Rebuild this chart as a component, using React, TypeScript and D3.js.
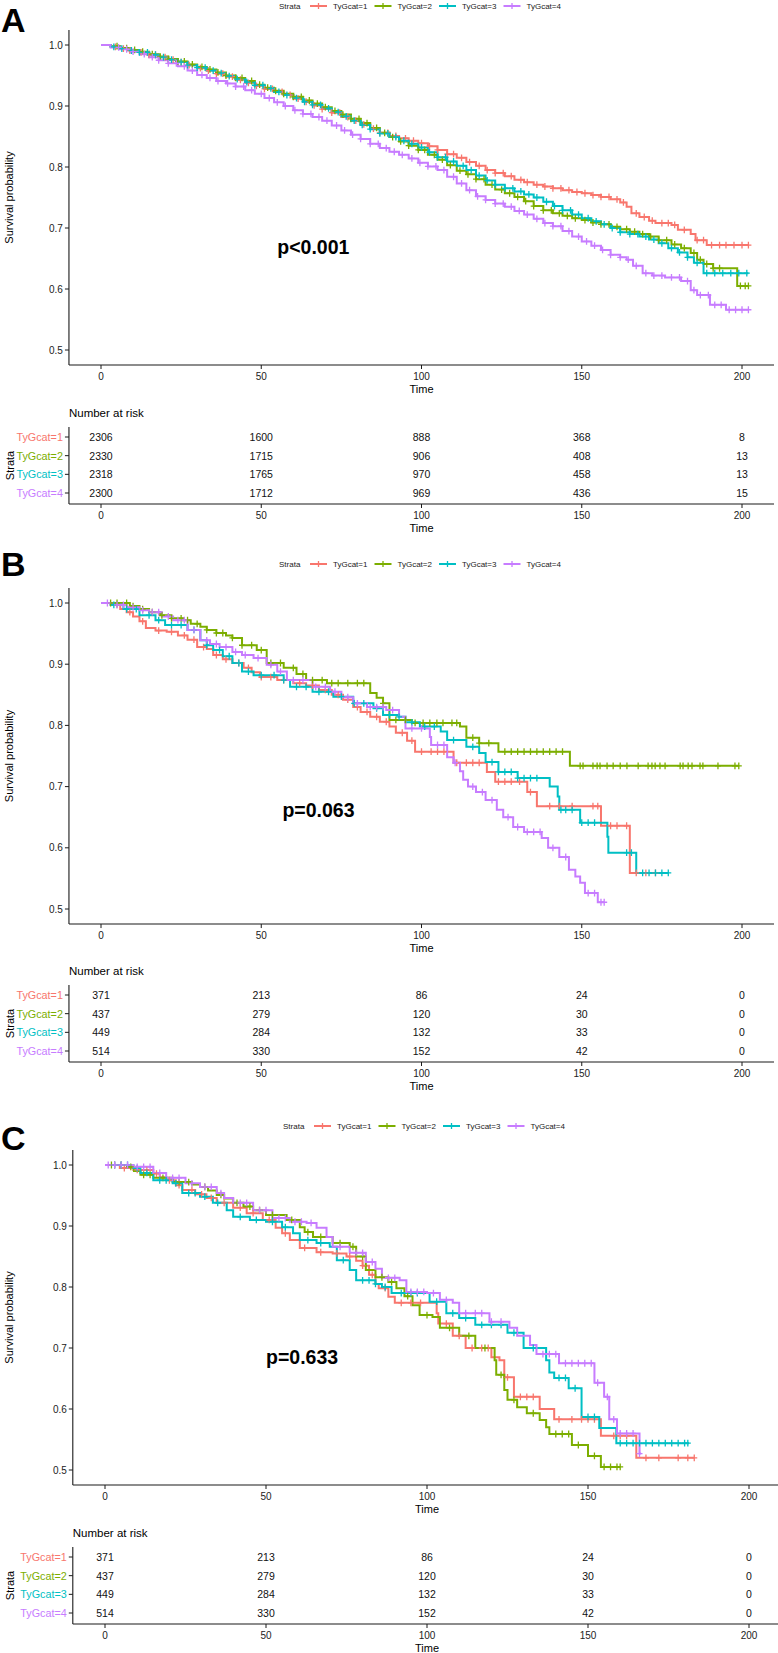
import * as d3 from "d3";
import { useEffect, useRef } from "react";

type Pt = [number, number];

const W = 778;
const H = 1653;
const FONT = "'Liberation Sans', Arial, Helvetica, sans-serif";

const strata = ["TyGcat=1", "TyGcat=2", "TyGcat=3", "TyGcat=4"];
const strataColors = ["#F8766D", "#7CAE00", "#00BFC4", "#C77CFF"];
const timeTicks = [0, 50, 100, 150, 200];
const survTicks = [0.5, 0.6, 0.7, 0.8, 0.9, 1.0];

// ---- panel A (step points: [time, survival from that time on]) ----
const survA1: Pt[] = [[0,1],[3,0.997],[6,0.994],[9,0.991],[12,0.988],[15,0.984],[18,0.98],[21,0.976],[24,0.972],[27,0.967],[30,0.962],[33,0.958],[36,0.953],[39,0.948],[42,0.943],[45,0.938],[48,0.933],[51,0.928],[54,0.923],[57,0.918],[60,0.912],[63,0.907],[66,0.901],[69,0.895],[72,0.889],[75,0.882],[78,0.876],[81,0.87],[84,0.863],[87,0.856],[90,0.851],[93,0.847],[96,0.843],[99,0.839],[102,0.834],[105,0.828],[108,0.821],[111,0.815],[114,0.808],[117,0.802],[120,0.795],[123,0.79],[126,0.785],[129,0.779],[132,0.775],[135,0.771],[138,0.768],[141,0.765],[144,0.762],[147,0.759],[150,0.757],[153,0.754],[156,0.751],[159,0.747],[162,0.742],[164,0.735],[165.5,0.724],[168,0.718],[171,0.712],[173,0.708],[178,0.705],[180,0.697],[184,0.69],[185.5,0.68],[189,0.672],[202,0.672]];
const survA2: Pt[] = [[0,1],[3,0.998],[6,0.995],[9,0.992],[12,0.989],[15,0.985],[18,0.981],[21,0.977],[24,0.973],[27,0.968],[30,0.964],[33,0.96],[36,0.955],[39,0.95],[42,0.946],[45,0.941],[48,0.935],[51,0.93],[54,0.925],[57,0.92],[60,0.915],[63,0.909],[66,0.904],[69,0.898],[72,0.892],[75,0.886],[78,0.879],[81,0.872],[84,0.864],[87,0.856],[90,0.849],[93,0.842],[96,0.835],[99,0.828],[102,0.82],[105,0.812],[108,0.803],[111,0.794],[114,0.788],[117,0.78],[120,0.771],[123,0.763],[126,0.757],[129,0.751],[132,0.744],[135,0.736],[138,0.729],[141,0.724],[144,0.72],[147,0.716],[150,0.713],[153,0.709],[156,0.706],[159,0.702],[162,0.698],[165,0.694],[168,0.69],[171,0.686],[174,0.68],[178,0.673],[181,0.667],[184,0.659],[186,0.648],[188,0.641],[191,0.634],[198.5,0.605],[202,0.605]];
const survA3: Pt[] = [[0,1],[3,0.997],[6,0.994],[9,0.991],[12,0.988],[15,0.984],[18,0.98],[21,0.976],[24,0.972],[27,0.967],[30,0.963],[33,0.958],[36,0.954],[39,0.949],[42,0.944],[45,0.939],[48,0.934],[51,0.929],[54,0.923],[57,0.918],[60,0.913],[63,0.907],[66,0.902],[69,0.896],[72,0.89],[75,0.883],[78,0.876],[81,0.869],[84,0.862],[87,0.855],[90,0.849],[93,0.843],[96,0.838],[99,0.832],[102,0.824],[105,0.816],[108,0.809],[111,0.802],[114,0.795],[117,0.786],[120,0.778],[123,0.771],[126,0.765],[129,0.76],[132,0.755],[135,0.75],[138,0.743],[141,0.736],[144,0.729],[147,0.722],[150,0.716],[153,0.711],[156,0.706],[159,0.7],[162,0.693],[165,0.69],[168,0.686],[171,0.681],[174,0.675],[177,0.667],[180,0.66],[183,0.652],[185,0.643],[188,0.626],[202,0.626]];
const survA4: Pt[] = [[0,1],[3,0.996],[6,0.993],[9,0.989],[12,0.985],[15,0.98],[18,0.975],[21,0.97],[24,0.965],[27,0.958],[30,0.951],[33,0.946],[36,0.941],[39,0.937],[42,0.932],[45,0.926],[48,0.92],[51,0.913],[54,0.906],[57,0.9],[60,0.893],[63,0.887],[66,0.882],[69,0.876],[72,0.868],[75,0.86],[78,0.853],[81,0.846],[84,0.838],[87,0.831],[90,0.825],[93,0.82],[96,0.814],[99,0.807],[102,0.801],[105,0.795],[108,0.784],[111,0.773],[114,0.762],[117,0.752],[120,0.746],[123,0.74],[126,0.735],[129,0.728],[132,0.722],[135,0.715],[138,0.708],[141,0.703],[144,0.695],[147,0.686],[150,0.678],[153,0.671],[156,0.664],[159,0.656],[162,0.652],[164,0.648],[166,0.638],[169,0.626],[172,0.622],[176,0.619],[181,0.613],[184,0.598],[186,0.59],[190,0.574],[195,0.566],[202,0.566]];
const censA1 = [4.5,7,9,12.5,15,17,20,22.5,25,27.5,31,33.5,36,38,41,43.5,46,48.5,51,53.5,56.5,59,61.5,64,66.5,69,72,74.5,77,79.5,82,85,87,89.5,92,95,97.5,100,102.5,105,108,110,112.5,115,118,120.5,123,125.5,128,131,133,136,138.5,141,143.5,146,148.5,151,153.5,156,158.5,161,163,167,169.5,172,175,177,179,182,186,188,190.5,193,195,197.5,200,202];
const censA2 = [5,8,10.5,13,16,18.5,21,24,26,28.5,31.5,34,36.5,39,42,44,47,49.5,52,54.5,57,60,62.5,65,67.5,70,73,75.5,78,80.5,83,86,88.5,91,93.5,96,99,101,104,106.5,109,112,114.5,117,119.5,122,125,127.5,130,132.5,135,138,140.5,143,145.5,148,151,153.5,156,158.5,161,164,166.5,169,171.5,174,176.5,179,182,185,187,189,191,193,199.5,201,202];
const censA3 = [4,6.5,9.5,12,14.5,17,19.5,22,25,27,30,32.5,35,37.5,40,42.5,45.5,48,50.5,53,55.5,58,61,63.5,66,68.5,71,74,76.5,79,81.5,84,87,89.5,92,94.5,97,100,102.5,105,107.5,110,113,115.5,118,120.5,123,126,128.5,131,133.5,136,139,141.5,144,146.5,149,152,154.5,157,159.5,162,165,167.5,170,172.5,175,178,180.5,183,186,189,191.5,194,196.5,199,201.5];
const censA4 = [5.5,8,10,13.5,16,18,21,23.5,26,28.5,31.5,34,36.5,39.5,42,44.5,47,50,52.5,55,57.5,60.5,63,65.5,68,70.5,73.5,76,78.5,81,84,86.5,89,91.5,94,97,99.5,102,104.5,107,110,112.5,115,117.5,120,123,125.5,128,130.5,133,136,138.5,141,143.5,146,149,151.5,154,156.5,159,162,164.5,167,170,172.5,175,178,180.5,183,185,187,189.5,191.5,193.5,196,198,200,202];
const riskA = [[2306,1600,888,368,8],[2330,1715,906,408,13],[2318,1765,970,458,13],[2300,1712,969,436,15]];
const pvalA = "p<0.001";
const pAtA: Pt = [55, 0.669];

// ---- panel B ----
const survB1: Pt[] = [[0,1],[3,0.997],[6,0.99],[8,0.985],[10,0.978],[12,0.97],[14,0.959],[17,0.955],[20.5,0.953],[24,0.947],[27,0.94],[30,0.928],[33,0.925],[35,0.915],[38,0.908],[41,0.902],[44.5,0.894],[47,0.887],[49.6,0.879],[55,0.874],[60,0.869],[64,0.865],[68,0.858],[72,0.85],[75.5,0.842],[78.7,0.83],[81,0.822],[84,0.814],[87,0.806],[90,0.798],[92,0.788],[95.5,0.775],[98,0.757],[110,0.739],[120.4,0.724],[123,0.708],[133,0.691],[136,0.668],[156,0.636],[165,0.559],[173,0.559]];
const survB2: Pt[] = [[0,1],[9,0.995],[12,0.99],[15,0.985],[18.4,0.98],[22,0.975],[25.6,0.972],[28,0.966],[31,0.961],[33,0.956],[36,0.951],[39,0.947],[41,0.943],[44,0.931],[48.6,0.923],[51.7,0.902],[57,0.894],[61,0.884],[64,0.874],[70.5,0.869],[84,0.853],[86,0.845],[88,0.836],[90,0.809],[97,0.804],[112,0.798],[114,0.78],[118,0.771],[124,0.757],[146.3,0.734],[199,0.734]];
const survB3: Pt[] = [[0,1],[3,0.997],[7,0.99],[12,0.98],[17,0.972],[20,0.964],[27,0.956],[31,0.939],[33,0.931],[35,0.923],[38,0.913],[41,0.902],[44,0.888],[47.6,0.882],[57,0.874],[59,0.863],[66,0.855],[72.5,0.847],[78.7,0.836],[85,0.828],[88,0.817],[93,0.814],[95,0.805],[99.5,0.798],[106,0.79],[108,0.776],[114,0.765],[118,0.755],[120,0.74],[124,0.724],[130,0.714],[140,0.7],[142.5,0.684],[143,0.662],[149.5,0.641],[158,0.618],[158.3,0.592],[167,0.559],[177,0.559]];
const survB4: Pt[] = [[0,1],[4,0.997],[8,0.993],[12,0.988],[15,0.985],[19,0.978],[22.5,0.972],[27,0.956],[31,0.939],[34,0.933],[37,0.928],[41,0.92],[44,0.915],[47.6,0.91],[51.7,0.899],[55,0.888],[58,0.874],[66,0.863],[71.5,0.855],[75,0.846],[78.7,0.836],[83,0.83],[89,0.825],[93,0.814],[95,0.795],[102.6,0.781],[103,0.768],[108,0.748],[110,0.739],[112,0.725],[113,0.711],[114.5,0.7],[117,0.691],[120,0.678],[123.5,0.662],[125.5,0.65],[128.6,0.634],[132,0.626],[137.5,0.616],[139.5,0.6],[143,0.585],[146,0.564],[148,0.553],[149.5,0.543],[151,0.526],[155,0.511],[157,0.511]];
const censB1 = [5,9,13,18,22,26,29,32,36,39,43,46,50,53,57,62,66,70,74,77,80,83,86,89,94,97,100,103,105,107,111,114,116,118,124,126,128,130.6,134,140,143,147,153.5,155,159,161,164,167,170,173];
const censB2 = [3,5,8,10,13,16,19,22,25,27,30,33,36,38,41,44,47,50,53,56,60,63,66,69,72,74,77,80,82,88,92,95,98,100.5,102.6,104.8,106.7,109.5,111,116,118,121,126,128,130,132,134,136,138,140,142,144,149.5,150.4,153.5,154.8,155.7,157.9,159.8,162,164.1,167.6,170.7,171.9,172.9,174.4,176,180.7,181.6,183.2,184.4,186.9,187.8,192.5,197.8,199];
const censB3 = [4,8,11,15,18,22,25,29,33,37,40,43,46,50,54,57,61,64,68,71,75,79,82,86,90,93,97,101,104,110,116,122,124,126,128,130,132,134,136,143.5,145,147,150,152,154,164,165.5,169,171,173,175,177];
const censB4 = [2,5,7,10,13,16,18,21,24,26,29,33,36,39,42,45,49,53,56,60,63,67,70,73,77,80,84,86,88,91,97,100,105,107,110.5,116,119,122,127,130,133,135,137,141,145,152,154,156,157];
const riskB = [[371,213,86,24,0],[437,279,120,30,0],[449,284,132,33,0],[514,330,152,42,0]];
const pvalB = "p=0.063";
const pAtB: Pt = [56.6, 0.662];

// ---- panel C ----
const survC1: Pt[] = [[0,1],[4.6,0.995],[8.8,0.992],[15,0.986],[17,0.98],[19,0.975],[22,0.967],[24,0.959],[28,0.952],[31.5,0.946],[34.7,0.938],[39.8,0.93],[44,0.921],[49,0.91],[53,0.897],[55,0.888],[57.4,0.877],[60.5,0.864],[65.7,0.857],[70.7,0.855],[75,0.85],[78,0.843],[80,0.835],[82,0.82],[84,0.805],[85,0.798],[88,0.784],[90,0.774],[103,0.757],[103.5,0.74],[108,0.72],[112,0.7],[120,0.685],[122.5,0.68],[124,0.652],[127,0.62],[135,0.6],[139.5,0.583],[154,0.556],[165,0.52],[183,0.52]];
const survC2: Pt[] = [[0,1],[6.8,0.997],[9,0.99],[11,0.984],[15,0.979],[21,0.972],[27,0.968],[29.5,0.964],[32,0.958],[34.7,0.951],[37,0.945],[39.8,0.938],[43,0.932],[46,0.926],[50,0.918],[56.4,0.91],[60.5,0.898],[62,0.89],[64.6,0.882],[70.7,0.872],[76,0.866],[78,0.85],[81,0.828],[84,0.816],[88,0.808],[90.5,0.798],[93,0.785],[95.5,0.77],[97.7,0.754],[101.7,0.751],[104,0.733],[110,0.72],[115,0.7],[121,0.68],[121.5,0.656],[124,0.631],[125,0.615],[128,0.603],[131,0.593],[135,0.582],[137,0.57],[138,0.559],[145,0.541],[150,0.523],[154,0.505],[160,0.505]];
const survC3: Pt[] = [[0,1],[8.8,0.995],[11,0.987],[15,0.975],[21,0.97],[24,0.954],[29.5,0.948],[33.5,0.938],[37.8,0.926],[39.8,0.915],[45,0.91],[50,0.907],[55,0.898],[58.4,0.888],[60.5,0.877],[65.7,0.872],[69.8,0.866],[72,0.844],[76,0.828],[78,0.811],[84,0.805],[86,0.8],[89,0.79],[100.8,0.776],[106,0.757],[110,0.749],[115,0.738],[125,0.725],[130,0.7],[137,0.68],[138,0.66],[139.5,0.651],[144,0.634],[148,0.587],[153.5,0.569],[158.8,0.544],[181.4,0.544]];
const survC4: Pt[] = [[0,1],[8.8,0.997],[15,0.987],[19,0.979],[25,0.97],[29.5,0.964],[34.7,0.954],[37,0.946],[39.8,0.938],[46,0.926],[52,0.913],[57.4,0.907],[62.6,0.905],[65.7,0.897],[68.8,0.882],[70.7,0.866],[76,0.856],[81,0.841],[84,0.83],[86,0.815],[91.5,0.811],[93.6,0.792],[100,0.79],[104,0.779],[108,0.774],[110,0.757],[119.4,0.743],[125.6,0.733],[128,0.72],[132,0.705],[134,0.69],[141,0.675],[152,0.643],[155,0.62],[156.6,0.583],[159,0.56],[166,0.527],[166.5,0.527]];
const censC1 = [3,6,10,13,16,20,23,27,30,33,37,42,46,51,56,62,67,72,76,80,83,87,92,95,98,106,110,114,117,119,125,129,131,133,141,145,148,150,152,158,160,162,168,172,178,181,183];
const censC2 = [2,5,8,12,14,18,23,26,31,36,41,45,48,52,58,63,67,73,77,80,86,89,94,100,107,113,118,123,127,133,140,142,144,147,152,155,157,159,160];
const censC3 = [3,5,7,10,13,17,19,22,26,28,31,35,42,47,52,56,63,67,74,80,82,84,87,92,95,97,103,108,112,117,120,123,127,133,141,143,146,150,152,160,162,164,166,168,170,172,174,176,178,180,181];
const censC4 = [1,3,5,7,10,12,14,17,21,23,27,31,33,36,42,44,48,50,54,56,59,61,64,73,78,80,83,88,90,95,97,99,102,106,112,115,117,120,123,136,138,140,143,145,147,149,151,153,156,158,160,162,164,166];
const riskC = [[371,213,86,24,0],[437,279,120,30,0],[449,284,132,33,0],[514,330,152,42,0]];
const pvalC = "p=0.633";
const pAtC: Pt = [50, 0.685];

interface Panel {
  letter: string;
  top: number;
  letterY: number;
  x0: number;
  x200: number;
  y1: number;
  y05: number;
  surv: Pt[][];
  cens: number[][];
  risk: number[][];
  pval: string;
  pAt: Pt;
}

const panels: Panel[] = [
  { letter: "A", top: 0, letterY: 32, x0: 101, x200: 742, y1: 45, y05: 350, surv: [survA1, survA2, survA3, survA4], cens: [censA1, censA2, censA3, censA4], risk: riskA, pval: pvalA, pAt: pAtA },
  { letter: "B", top: 558, letterY: 576, x0: 101, x200: 742, y1: 603, y05: 909, surv: [survB1, survB2, survB3, survB4], cens: [censB1, censB2, censB3, censB4], risk: riskB, pval: pvalB, pAt: pAtB },
  { letter: "C", top: 1120, letterY: 1150, x0: 105, x200: 749, y1: 1165, y05: 1470, surv: [survC1, survC2, survC3, survC4], cens: [censC1, censC2, censC3, censC4], risk: riskC, pval: pvalC, pAt: pAtC },
];

const survAt = (pts: Pt[], t: number) => {
  let s = pts[0][1];
  for (const [tt, ss] of pts) {
    if (tt <= t) s = ss;
    else break;
  }
  return s;
};

function drawPanel(root: d3.Selection<SVGSVGElement, unknown, null, undefined>, p: Panel) {
  const g = root.append("g");
  const x = d3.scaleLinear().domain([0, 200]).range([p.x0, p.x200]);
  const y = d3.scaleLinear().domain([0.5, 1]).range([p.y05, p.y1]);
  const axL = x(-10);
  const axR = Math.min(x(210), W);
  const axB = y(0.4754);
  const axT = y(1.0246);
  const ink = "#1a1a1a";

  // panel letter
  g.append("text")
    .attr("x", 1)
    .attr("y", p.letterY)
    .attr("font-size", 34)
    .attr("font-weight", "bold")
    .attr("fill", "#000")
    .text(p.letter);

  // legend
  const legY = p.top + 6;
  const legStart = x(0) + 178;
  g.append("text")
    .attr("x", legStart)
    .attr("y", legY)
    .attr("dominant-baseline", "central")
    .attr("font-size", 8)
    .attr("fill", "#222")
    .text("Strata");
  strata.forEach((s, i) => {
    const kx = legStart + 31 + i * 64.5;
    g.append("line")
      .attr("x1", kx).attr("x2", kx + 17)
      .attr("y1", legY).attr("y2", legY)
      .attr("stroke", strataColors[i]).attr("stroke-width", 2);
    g.append("path")
      .attr("d", `M${kx + 8.5 - 3},${legY}h6M${kx + 8.5},${legY - 3}v6`)
      .attr("stroke", strataColors[i]).attr("stroke-width", 1.3);
    g.append("text")
      .attr("x", kx + 23)
      .attr("y", legY)
      .attr("dominant-baseline", "central")
      .attr("font-size", 8)
      .attr("fill", "#222")
      .text(s);
  });

  // axes of the survival plot
  g.append("line").attr("x1", axL).attr("x2", axL).attr("y1", axT).attr("y2", axB).attr("stroke", ink).attr("stroke-width", 1.1);
  g.append("line").attr("x1", axL).attr("x2", axR).attr("y1", axB).attr("y2", axB).attr("stroke", ink).attr("stroke-width", 1.1);
  survTicks.forEach((v) => {
    g.append("line").attr("x1", axL - 4).attr("x2", axL).attr("y1", y(v)).attr("y2", y(v)).attr("stroke", ink).attr("stroke-width", 1);
    g.append("text")
      .attr("x", axL - 6)
      .attr("y", y(v))
      .attr("text-anchor", "end")
      .attr("dominant-baseline", "central")
      .attr("font-size", 10)
      .attr("fill", "#222")
      .text(d3.format(".1f")(v));
  });
  timeTicks.forEach((t) => {
    g.append("line").attr("x1", x(t)).attr("x2", x(t)).attr("y1", axB).attr("y2", axB + 4).attr("stroke", ink).attr("stroke-width", 1);
    g.append("text")
      .attr("x", x(t))
      .attr("y", axB + 11)
      .attr("text-anchor", "middle")
      .attr("dominant-baseline", "central")
      .attr("font-size", 10)
      .attr("fill", "#222")
      .text(t);
  });
  g.append("text")
    .attr("x", (x(0) + x(200)) / 2)
    .attr("y", axB + 24)
    .attr("text-anchor", "middle")
    .attr("dominant-baseline", "central")
    .attr("font-size", 11)
    .attr("fill", "#000")
    .text("Time");
  g.append("text")
    .attr("transform", `translate(9,${(axT + axB) / 2}) rotate(-90)`)
    .attr("text-anchor", "middle")
    .attr("dominant-baseline", "central")
    .attr("font-size", 11)
    .attr("fill", "#000")
    .text("Survival probability");

  // curves
  const line = d3
    .line<Pt>()
    .x((d) => x(d[0]))
    .y((d) => y(d[1]))
    .curve(d3.curveStepAfter);
  p.surv.forEach((pts, i) => {
    g.append("path")
      .attr("d", line(pts) ?? "")
      .attr("fill", "none")
      .attr("stroke", strataColors[i])
      .attr("stroke-width", 2);
  });
  p.surv.forEach((pts, i) => {
    const tEnd = pts[pts.length - 1][0];
    g.append("g")
      .selectAll("path")
      .data(p.cens[i].filter((t) => t <= tEnd))
      .enter()
      .append("path")
      .attr("d", (t) => {
        const cx = x(t);
        const cy = y(survAt(pts, t));
        return `M${cx - 3},${cy}h6M${cx},${cy - 3.4}v6.8`;
      })
      .attr("stroke", strataColors[i])
      .attr("stroke-width", 1.3);
  });

  // p-value
  g.append("text")
    .attr("x", x(p.pAt[0]))
    .attr("y", y(p.pAt[1]))
    .attr("dominant-baseline", "central")
    .attr("font-size", 19.5)
    .attr("font-weight", "bold")
    .attr("fill", "#000")
    .text(p.pval);

  // risk table
  const rowY = d3.scalePoint<string>().domain(strata).range([p.top + 437, p.top + 493]);
  const tAxY = p.top + 504;
  const tTop = p.top + 427;
  g.append("text")
    .attr("x", axL)
    .attr("y", p.top + 413)
    .attr("dominant-baseline", "central")
    .attr("font-size", 11.5)
    .attr("fill", "#000")
    .text("Number at risk");
  g.append("line").attr("x1", axL).attr("x2", axL).attr("y1", tTop).attr("y2", tAxY).attr("stroke", ink).attr("stroke-width", 1.1);
  g.append("line").attr("x1", axL).attr("x2", axR).attr("y1", tAxY).attr("y2", tAxY).attr("stroke", ink).attr("stroke-width", 1.1);
  strata.forEach((s, i) => {
    const ry = rowY(s) ?? 0;
    g.append("line").attr("x1", axL - 4).attr("x2", axL).attr("y1", ry).attr("y2", ry).attr("stroke", ink).attr("stroke-width", 1);
    g.append("text")
      .attr("x", axL - 6)
      .attr("y", ry)
      .attr("text-anchor", "end")
      .attr("dominant-baseline", "central")
      .attr("font-size", 10.8)
      .attr("fill", strataColors[i])
      .text(s);
    p.risk[i].forEach((n, j) => {
      g.append("text")
        .attr("x", x(timeTicks[j]))
        .attr("y", ry)
        .attr("text-anchor", "middle")
        .attr("dominant-baseline", "central")
        .attr("font-size", 10.5)
        .attr("fill", "#111")
        .text(n);
    });
  });
  timeTicks.forEach((t) => {
    g.append("line").attr("x1", x(t)).attr("x2", x(t)).attr("y1", tAxY).attr("y2", tAxY + 4).attr("stroke", ink).attr("stroke-width", 1);
    g.append("text")
      .attr("x", x(t))
      .attr("y", tAxY + 11)
      .attr("text-anchor", "middle")
      .attr("dominant-baseline", "central")
      .attr("font-size", 10)
      .attr("fill", "#222")
      .text(t);
  });
  g.append("text")
    .attr("x", (x(0) + x(200)) / 2)
    .attr("y", tAxY + 24)
    .attr("text-anchor", "middle")
    .attr("dominant-baseline", "central")
    .attr("font-size", 11)
    .attr("fill", "#000")
    .text("Time");
  g.append("text")
    .attr("transform", `translate(10,${(tTop + tAxY) / 2}) rotate(-90)`)
    .attr("text-anchor", "middle")
    .attr("dominant-baseline", "central")
    .attr("font-size", 11)
    .attr("fill", "#000")
    .text("Strata");
}

const App: React.FC = () => {
  const ref = useRef<SVGSVGElement | null>(null);

  useEffect(() => {
    const svg = d3.select(ref.current as SVGSVGElement);
    svg.selectAll("*").remove();
    svg.attr("width", W).attr("height", H).attr("font-family", FONT);
    svg.append("rect").attr("width", W).attr("height", H).attr("fill", "#fff");
    panels.forEach((p) => drawPanel(svg, p));
  }, []);

  return <svg ref={ref} style={{ position: "absolute", left: 0, top: 0, display: "block" }}></svg>;
};

export default App;
